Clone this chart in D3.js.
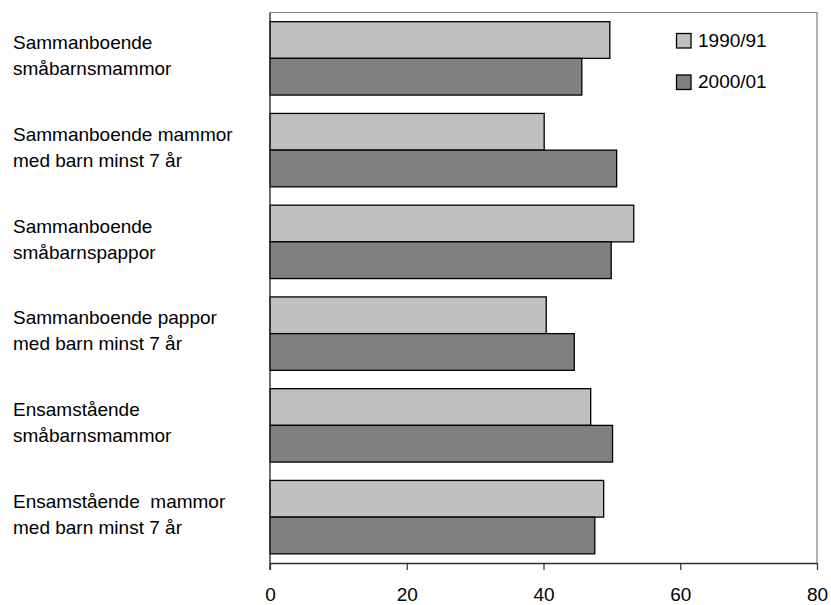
<!DOCTYPE html>
<html>
<head>
<meta charset="utf-8">
<script src="https://cdn.jsdelivr.net/npm/d3@7"></script>
<style>
html,body{margin:0;padding:0;background:#fff;}
svg{display:block;font-family:"Liberation Sans",Arial,sans-serif;}
</style>
</head>
<body>
<svg id="chart" width="831" height="605"></svg>
<script>
const categories = [
  ["Sammanboende", "småbarnsmammor"],
  ["Sammanboende mammor", "med barn minst 7 år"],
  ["Sammanboende", "småbarnspappor"],
  ["Sammanboende pappor", "med barn minst 7 år"],
  ["Ensamstående", "småbarnsmammor"],
  ["Ensamstående  mammor", "med barn minst 7 år"]
];
const seriesNames = ["1990/91", "2000/01"];
const values1990 = [49.7, 40.1, 53.2, 40.4, 46.9, 48.8];
const values2000 = [45.6, 50.7, 49.9, 44.5, 50.1, 47.5];
const xTicks = [0, 20, 40, 60, 80];
const colors = ["#C0C0C0", "#808080"];

(function () {
const svg = d3.select("#chart");
const pLeft = 270, pRight = 817, pTop = 12.5, pBottom = 563;

const x = d3.scaleLinear().domain([0, 80]).range([pLeft, pRight]);
const y = d3.scaleBand().domain(d3.range(categories.length)).range([pTop, pBottom])
  .paddingInner(0.2).paddingOuter(0.1);
const ySub = d3.scaleBand().domain(d3.range(seriesNames.length)).range([0, y.bandwidth()]);

// plot border (top & right)
svg.append("path")
  .attr("d", `M${pLeft},${pTop}H${pRight}V${pBottom}`)
  .attr("fill", "none").attr("stroke", "#808080").attr("stroke-width", 1.2);

const rows = categories.map((c, i) => ({i, vals: [values1990[i], values2000[i]]}));
const g = svg.append("g");
rows.forEach(r => {
  r.vals.forEach((v, s) => {
    g.append("rect")
      .attr("x", x(0))
      .attr("y", y(r.i) + ySub(s))
      .attr("width", x(v) - x(0))
      .attr("height", ySub.bandwidth())
      .attr("fill", colors[s])
      .attr("stroke", "#000")
      .attr("stroke-width", 1.3);
  });
});

// left axis line
svg.append("line").attr("x1", pLeft).attr("x2", pLeft).attr("y1", pTop).attr("y2", pBottom + 7)
  .attr("stroke", "#303030").attr("stroke-width", 1.4);

// bottom axis
const xAxis = d3.axisBottom(x).tickValues(xTicks).tickSize(7).tickSizeOuter(0).tickPadding(0);
const ax = svg.append("g").attr("transform", `translate(0,${pBottom})`).call(xAxis);
ax.select(".domain").attr("stroke", "#303030").attr("stroke-width", 1.4);
ax.selectAll(".tick line").attr("stroke", "#303030").attr("stroke-width", 1.2);
ax.selectAll(".tick text")
  .attr("y", 38).attr("dy", 0)
  .attr("font-size", 19).attr("fill", "#000")
  .attr("font-family", "Liberation Sans, Arial, sans-serif");

// category labels
const labG = svg.append("g");
categories.forEach((lines, i) => {
  const cy = y(i) + y.bandwidth() / 2 - 3;
  const t = labG.append("text")
    .attr("x", 13)
    .attr("font-size", 19)
    .attr("fill", "#000")
    .style("white-space", "pre");
  lines.forEach((ln, k) => {
    t.append("tspan").attr("x", 13)
      .attr("y", cy + (k - (lines.length - 1) / 2) * 26 + 6.8)
      .text(ln);
  });
});

// legend
const leg = svg.append("g");
seriesNames.forEach((n, s) => {
  const ly = 33.5 + s * 41.5;
  leg.append("rect").attr("x", 676.5).attr("y", ly).attr("width", 14.5).attr("height", 14.5)
    .attr("fill", colors[s]).attr("stroke", "#000").attr("stroke-width", 1.3);
  leg.append("text").attr("x", 698).attr("y", ly + 13.3)
    .attr("font-size", 19).attr("fill", "#000").text(n);
});
})();
</script>
</body>
</html>
